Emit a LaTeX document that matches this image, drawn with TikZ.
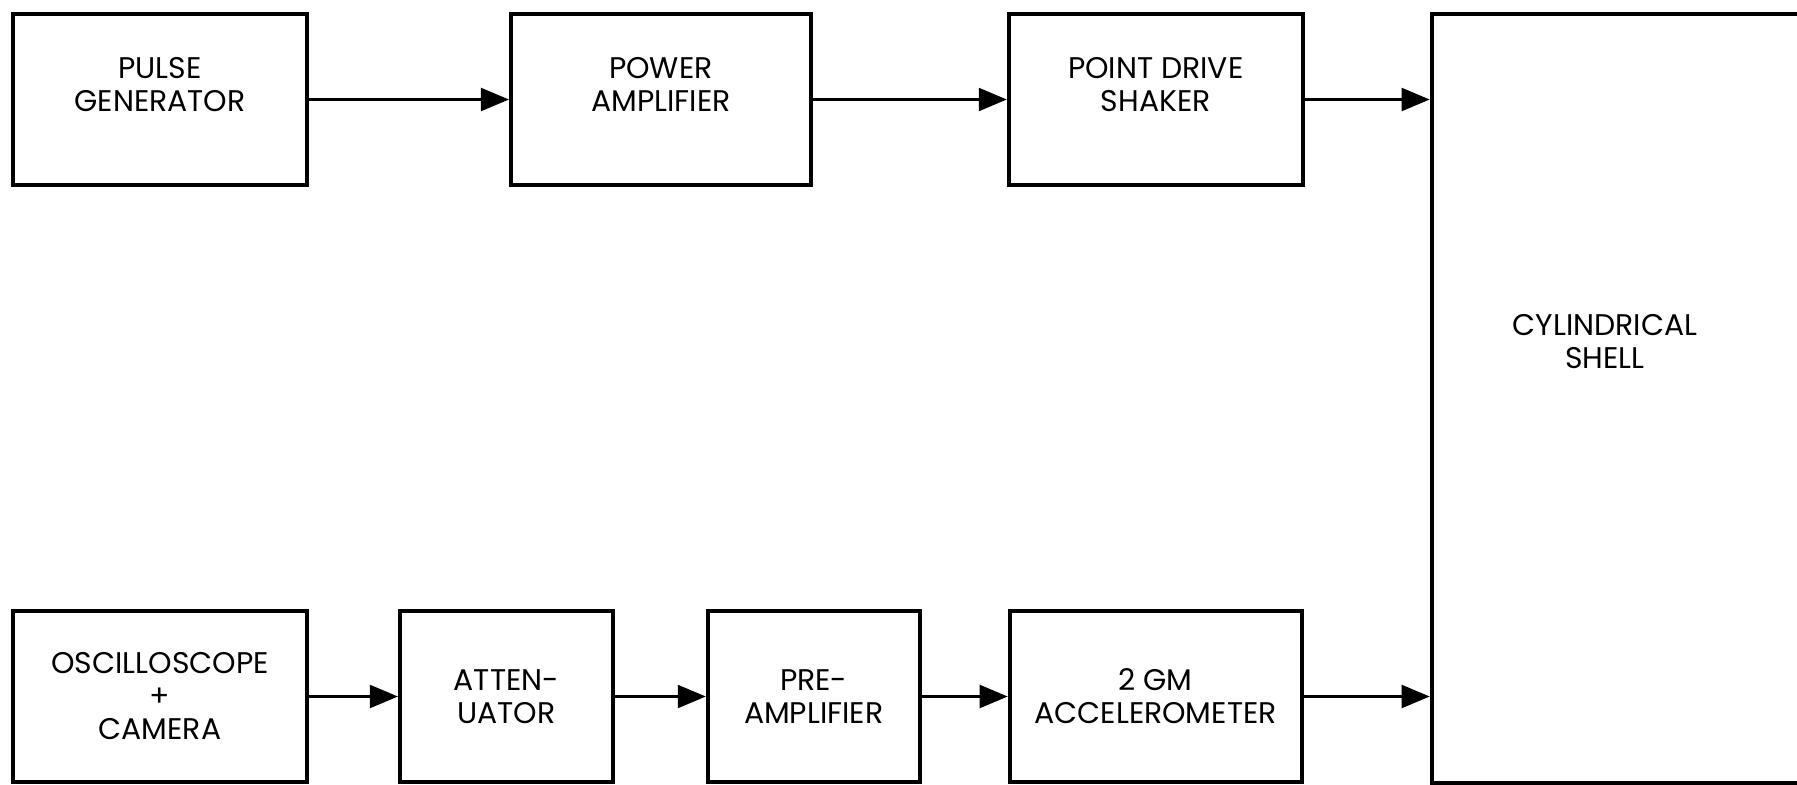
\documentclass[tikz,border=0pt]{standalone}
\usepackage{fontspec}
\setmainfont{Poppins}
\usetikzlibrary{arrows.meta, positioning}

\begin{document}
\begin{tikzpicture}[
    node distance=1cm and 2cm,
    block/.style={
        rectangle,
        draw,
        line width=1.1pt,
        minimum height=1.71cm,
        inner sep=0pt,
        text centered,
        align=center,
        font=\fontsize{8.5}{9.4}\selectfont
    },
    boxtext/.style={
        align=center,
        font=\fontsize{8.5}{9.4}\selectfont
    },
    arrow/.style={
        -{Triangle[length=2.8mm, width=2.3mm]},
        line width=0.6pt
    }
]
\useasboundingbox (0,0) rectangle (17.97,7.84);

% Drive chain
\node[block, minimum width=2.94cm, label={[boxtext, yshift=1.5mm]center:{PULSE\\GENERATOR}}] (gen) at (1.60,6.845) {};
\node[block, minimum width=3cm, right=2cm of gen, label={[boxtext, yshift=1.5mm]center:{POWER\\AMPLIFIER}}] (amp) {};
\node[block, minimum width=2.94cm, right=1.94cm of amp, label={[boxtext, yshift=1.5mm]center:{POINT DRIVE\\SHAKER}}] (shaker) {};

% Test piece
\node[block, minimum width=4cm, minimum height=7.69cm, right=1.25cm of shaker.north east, anchor=north west] (shell) {};
\node[boxtext] (shelltext) at (16.05,4.42) {CYLINDRICAL\\SHELL};

% Measuring chain
\node[block, minimum width=2.94cm] (osc) at (1.60,0.875) {OSCILLOSCOPE\\+\\CAMERA};
\node[block, minimum width=2.13cm, right=0.89cm of osc] (att) {ATTEN-\\UATOR};
\node[block, minimum width=2.12cm, right=0.91cm of att] (pre) {PRE-\\AMPLIFIER};
\node[block, minimum width=2.92cm, right=0.86cm of pre] (acc) {2 GM\\ACCELEROMETER};

% Signal arrows
\draw[arrow] (gen) -- (amp);
\draw[arrow] (amp) -- (shaker);
\draw[arrow] (shaker) -- (shaker -| shell.west);
\draw[arrow] (osc) -- (att);
\draw[arrow] (att) -- (pre);
\draw[arrow] (pre) -- (acc);
\draw[arrow] (acc) -- (acc -| shell.west);

\end{tikzpicture}
\end{document}
